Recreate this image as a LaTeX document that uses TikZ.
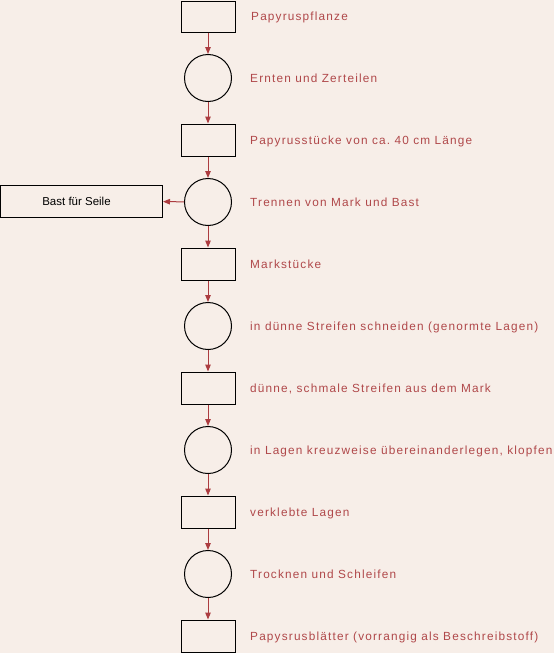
\documentclass[tikz,border=0pt]{standalone}
\usepackage{fontspec}
\setmainfont{Liberation Sans}
\newfontfamily\lblfont[LetterSpace=10]{Liberation Sans}
\usetikzlibrary{arrows.meta}
\frenchspacing
\definecolor{bgc}{RGB}{247,238,232}
\definecolor{redtxt}{RGB}{176,72,74}
\definecolor{redarr}{RGB}{172,60,64}
\tikzset{
  stock/.style={draw=black, line width=1pt, minimum width=54pt, minimum height=32pt, inner sep=0pt},
  proc/.style={draw=black, line width=1pt, circle, minimum size=47pt, inner sep=0pt},
  lbl/.style={anchor=base west, inner sep=0pt, text=redtxt, font=\lblfont\frenchspacing\fontsize{11.8pt}{13pt}\selectfont},
  flow/.style={draw=redarr, line width=1pt, -{Triangle[length=7pt,width=5.5pt]}},
}
\begin{document}
\begin{tikzpicture}[x=1pt,y=-1pt]
\fill[bgc] (0,0) rectangle (554,653);
\useasboundingbox (0,0) rectangle (554,653);
\node[stock, minimum height=31pt] (n0) at (208,16.5) {};
\node[proc] (n1) at (208,78) {};
\node[stock] (n2) at (208,140) {};
\node[proc] (n3) at (208,202) {};
\node[stock] (n4) at (208,264) {};
\node[proc] (n5) at (208,326) {};
\node[stock] (n6) at (208,388) {};
\node[proc] (n7) at (208,450) {};
\node[stock] (n8) at (208,512) {};
\node[proc] (n9) at (208,574) {};
\node[stock] (n10) at (208,636) {};
\node[draw=black, line width=1pt, minimum width=162pt, minimum height=32pt, inner sep=0pt,
  label={[inner sep=0pt, xshift=-5pt, font=\fontsize{11.5pt}{13pt}\selectfont]center:Bast für Seile}] (bast) at (81.5,201) {};
\node[lbl] (l0) at (251,20) {Papyruspflanze};
\node[lbl] (l1) at (250,82) {Ernten und Zerteilen};
\node[lbl] (l2) at (250,144) {Papyrusstücke von ca. 40 cm Länge};
\node[lbl] (l3) at (250,206) {Trennen von Mark und Bast};
\node[lbl] (l4) at (250,268) {Markstücke};
\node[lbl] (l5) at (250,330) {in dünne Streifen schneiden (genormte Lagen)};
\node[lbl] (l6) at (250,392) {dünne, schmale Streifen aus dem Mark};
\node[lbl] (l7) at (250,454) {in Lagen kreuzweise übereinanderlegen, klopfen};
\node[lbl] (l8) at (250,516) {verklebte Lagen};
\node[lbl] (l9) at (250,578) {Trocknen und Schleifen};
\node[lbl] (l10) at (250,640) {Papysrusblätter (vorrangig als Beschreibstoff)};
\foreach \a/\b in {n0/n1,n1/n2,n2/n3,n3/n4,n4/n5,n5/n6,n6/n7,n7/n8,n8/n9,n9/n10}
  \draw[flow] (\a) -- (\b);
\draw[flow] (n3) -- (bast);
\end{tikzpicture}
\end{document}
